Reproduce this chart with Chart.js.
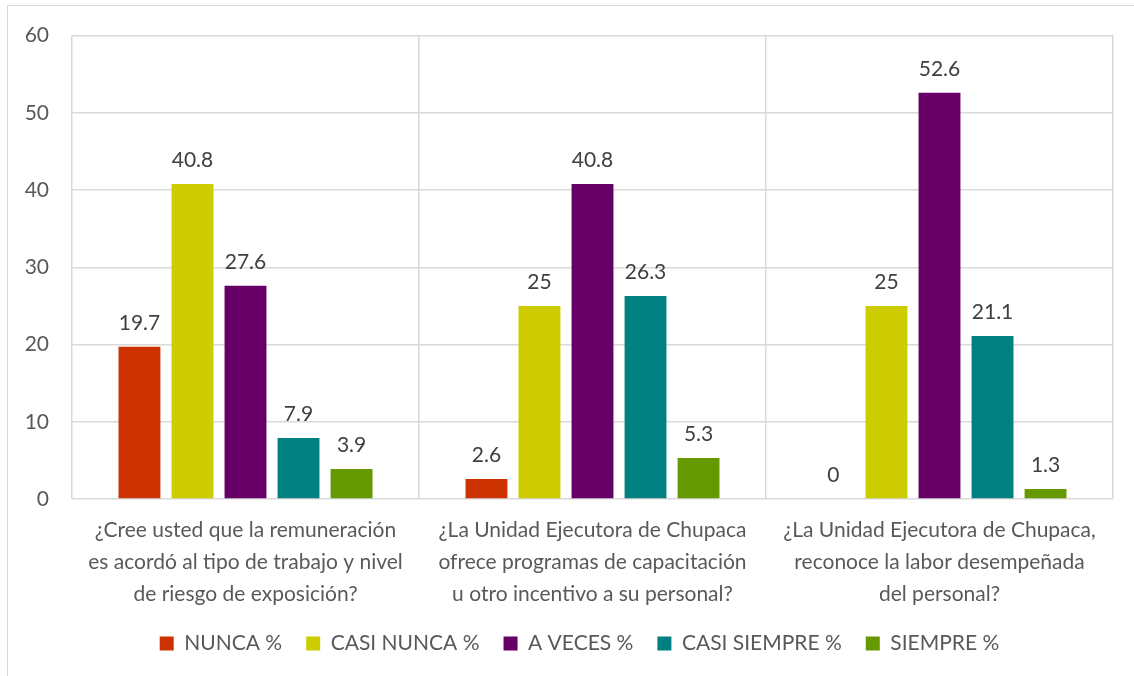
<!DOCTYPE html>
<html>
<head>
<meta charset="utf-8">
<script src="https://cdn.jsdelivr.net/npm/chart.js@4.4.1/dist/chart.umd.min.js"></script>
<style>
  html, body { margin: 0; padding: 0; background: #fff; overflow: hidden; }
  #frame { position: absolute; left: 7px; top: 5px; width: 1200px; height: 700px; border: 1px solid #d9d9d9; }
  #wrap { position: absolute; left: 0; top: 0; width: 1134px; height: 676px; }
</style>
</head>
<body>
<div id="frame"></div>
<div id="wrap"><canvas id="chart"></canvas></div>
<script>
const categories = [
    ['¿Cree usted que la remuneración', 'es acordó al tipo de trabajo y nivel', 'de riesgo de exposición?'],
    ['¿La Unidad Ejecutora de Chupaca', 'ofrece programas de capacitación', 'u otro incentivo a su personal?'],
    ['¿La Unidad Ejecutora de Chupaca,', 'reconoce la labor desempeñada', 'del personal?']
];
const seriesNames = ['NUNCA %', 'CASI NUNCA %', 'A VECES %', 'CASI SIEMPRE %', 'SIEMPRE %'];
const nunca = [19.7, 2.6, 0];
const casiNunca = [40.8, 25, 25];
const aVeces = [27.6, 40.8, 52.6];
const casiSiempre = [7.9, 26.3, 21.1];
const siempre = [3.9, 5.3, 1.3];
const yTicks = [0, 10, 20, 30, 40, 50, 60];

const colors = ['#cc3300', '#cccc00', '#660066', '#008080', '#669900'];
const values = [nunca, casiNunca, aVeces, casiSiempre, siempre];

const fontFamily = 'Lato, "Open Sans", sans-serif';

// draws the number above each bar
const valueLabels = {
    id: 'valueLabels',
    afterDatasetsDraw(chart) {
        const ctx = chart.ctx;
        ctx.save();
        ctx.font = '21px ' + fontFamily;
        ctx.fillStyle = '#404040';
        ctx.textAlign = 'center';
        ctx.textBaseline = 'alphabetic';
        chart.data.datasets.forEach((ds, i) => {
            chart.getDatasetMeta(i).data.forEach((bar, j) => {
                ctx.fillText(String(ds.data[j]), bar.x, bar.y - 17);
            });
        });
        ctx.restore();
    }
};

// legend in the original is centred a bit to the right of the canvas centre
const legendNudge = {
    id: 'legendNudge',
    afterUpdate(chart) {
        chart.legend.left += 19;
        chart.legend.right += 19;
    }
};

new Chart(document.getElementById('chart'), {
    type: 'bar',
    data: {
        labels: categories,
        datasets: seriesNames.map((name, i) => ({
            label: name,
            data: values[i],
            backgroundColor: colors[i],
            borderWidth: 0,
            categoryPercentage: 0.764,
            barPercentage: 0.79
        }))
    },
    options: {
        responsive: true,
        maintainAspectRatio: false,
        animation: false,
        layout: { padding: { left: 8, right: 21, top: 34, bottom: 12 } },
        scales: {
            x: {
                grid: { color: '#d9d9d9', lineWidth: 1.5, drawTicks: false },
                border: { display: false },
                ticks: { color: '#595959', padding: 15, maxRotation: 0, autoSkip: false,
                         font: { family: fontFamily, size: 21, lineHeight: 1.52 } },
                afterFit: s => { s.height = 110; }
            },
            y: {
                min: 0, max: 60,
                afterBuildTicks: s => { s.ticks = yTicks.map(v => ({ value: v })); },
                grid: { color: '#d9d9d9', lineWidth: 1.5, drawTicks: false },
                border: { display: false },
                ticks: { color: '#595959', padding: 23, font: { family: fontFamily, size: 21 } },
                afterFit: s => { s.width = 64; }
            }
        },
        plugins: {
            legend: {
                position: 'bottom',
                labels: { color: '#595959', boxWidth: 14, boxHeight: 14, padding: 24,
                          font: { family: fontFamily, size: 21 } }
            },
            tooltip: { enabled: false }
        }
    },
    plugins: [valueLabels, legendNudge]
});
</script>
</body>
</html>
